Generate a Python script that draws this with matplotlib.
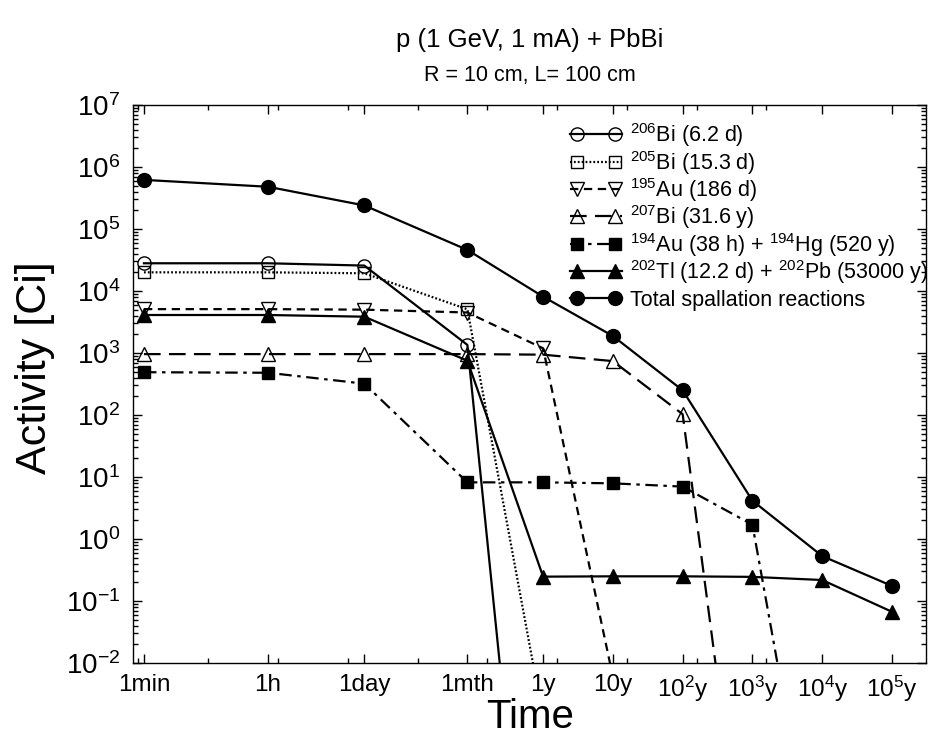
import numpy as np
import matplotlib
matplotlib.use("Agg")
import matplotlib.pyplot as plt
from matplotlib.lines import Line2D
from matplotlib.ticker import FixedLocator, NullFormatter, LogLocator

plt.rcParams['font.family'] = ['Liberation Sans', 'DejaVu Sans']
plt.rcParams['mathtext.fontset'] = 'custom'
plt.rcParams['mathtext.rm'] = 'Liberation Sans'
plt.rcParams['mathtext.it'] = 'Liberation Sans:italic'
plt.rcParams['mathtext.bf'] = 'Liberation Sans:bold'
plt.rcParams['lines.scale_dashes'] = False

# time points (seconds)
YEAR = 365.25 * 86400
time_s = [60, 3600, 86400, 30 * 86400, YEAR, 10 * YEAR, 1e2 * YEAR, 1e3 * YEAR, 1e4 * YEAR, 1e5 * YEAR]
time_labels = ['1min', '1h', '1day', '1mth', '1y', '10y',
               r'$10^{2}$y', r'$10^{3}$y', r'$10^{4}$y', r'$10^{5}$y']
minor_ticks_s = [5 * 10.0 ** n for n in range(1, 11)]

nan = np.nan
bi206 = [2.8e4, 2.8e4, 2.57e4, 1.35e3, 1.3e-9, nan, nan, nan, nan, nan]
bi205 = [2.0e4, 2.0e4, 1.93e4, 5.07e3, 1.3e-3, nan, nan, nan, nan, nan]
au195 = [5.1e3, 5.1e3, 5.0e3, 4.5e3, 1.19e3, 6e-3, nan, nan, nan, nan]
bi207 = [9.6e2, 9.6e2, 9.6e2, 9.6e2, 9.4e2, 7.4e2, 1.03e2, 3e-7, nan, nan]
au194 = [4.9e2, 4.8e2, 3.2e2, 8.2, 8.2, 7.9, 7.0, 1.7, 1e-6, nan]
tl202 = [4.1e3, 4.1e3, 3.85e3, 7.5e2, 0.247, 0.25, 0.25, 0.245, 0.218, 0.067]
total = [6.2e5, 4.8e5, 2.4e5, 4.6e4, 8.1e3, 1.88e3, 2.5e2, 4.15, 0.53, 0.175]

labels = [r'$^{206}$Bi (6.2 d)', r'$^{205}$Bi (15.3 d)', r'$^{195}$Au (186 d)',
          r'$^{207}$Bi (31.6 y)', r'$^{194}$Au (38 h) + $^{194}$Hg (520 y)',
          r'$^{202}$Tl (12.2 d) + $^{202}$Pb (53000 y)', 'Total spallation reactions']

lw = 1.6
line_styles = [
    dict(ls='-'),
    dict(ls=(0, (1.3, 1.5))),
    dict(ls=(0, (6, 4))),
    dict(ls=(0, (12, 6))),
    dict(ls=(0, (9, 4, 2.5, 4))),
    dict(ls='-'),
    dict(ls='-'),
]
marker_styles = [
    dict(marker='o', ms=9.5, mfc='none', mec='k', mew=1.0),
    dict(marker='s', ms=8.5, mfc='none', mec='k', mew=1.0),
    dict(marker='v', ms=10, mfc='none', mec='k', mew=1.0),
    dict(marker='^', ms=10, mfc='none', mec='k', mew=1.0),
    dict(marker='s', ms=8, mfc='k', mec='k'),
    dict(marker='^', ms=10, mfc='k', mec='k'),
    dict(marker='o', ms=10, mfc='k', mec='k'),
]
series = [bi206, bi205, au195, bi207, au194, tl202, total]

W, H = 929, 735
fig = plt.figure(figsize=(W / 100, H / 100), dpi=100)
L, R, T, B = 133, 926, 105, 663
ax = fig.add_axes([L / W, 1 - B / H, (R - L) / W, (B - T) / H])

for ys, lst, mst, lab in zip(series, line_styles, marker_styles, labels):
    ax.plot(time_s, ys, color='k', lw=lw, label=lab, **lst, **mst)

ax.set_xscale('log')
ax.set_yscale('log')
ax.set_xlim(41.8, 9.7e12)
ax.set_ylim(1e-2, 1e7)

ax.xaxis.set_major_locator(FixedLocator(time_s))
ax.set_xticklabels(time_labels)
ax.xaxis.set_minor_locator(FixedLocator(minor_ticks_s))
ax.xaxis.set_minor_formatter(NullFormatter())
ax.yaxis.set_major_locator(LogLocator(base=10, numticks=20))
ax.yaxis.set_minor_locator(LogLocator(base=10, subs=np.arange(2, 10), numticks=20))
ax.yaxis.set_minor_formatter(NullFormatter())

ax.tick_params(which='both', direction='in', top=True, right=True, width=1.0)
ax.tick_params(which='major', length=6.5)
ax.tick_params(which='minor', length=3.5)
ax.tick_params(axis='y', which='major', labelsize=20, pad=9)
ax.tick_params(axis='x', which='major', labelsize=17.5, pad=8)
for s in ax.spines.values():
    s.set_linewidth(1.0)

fig.text(529.5 / W, 1 - 40 / H, 'p (1 GeV, 1 mA) + PbBi', ha='center', va='center', fontsize=18.5)
fig.text(529.5 / W, 1 - 75 / H, 'R = 10 cm, L= 100 cm', ha='center', va='center', fontsize=15.5)
fig.text(35 / W, 1 - 368 / H, 'Activity [Ci]', rotation=90, ha='center', va='center', fontsize=31)
fig.text(530 / W, 1 - 717 / H, 'Time', ha='center', va='center', fontsize=29)

# legend (drawn row by row, no frame)
row0, drow = 134.4, 27.3
for i, (lst, mst, lab) in enumerate(zip(line_styles, marker_styles, labels)):
    yc = row0 + i * drow
    fig.add_artist(Line2D([570 / W, 622 / W], [1 - yc / H, 1 - yc / H], transform=fig.transFigure,
                          color='k', lw=lw, **lst))
    fig.add_artist(Line2D([577 / W, 615 / W], [1 - yc / H, 1 - yc / H], transform=fig.transFigure,
                          color='k', ls='none', **mst))
    fig.text(630 / W, 1 - (yc + 8) / H, lab, ha='left', va='baseline', fontsize=15.5)

fig.savefig('out.png', dpi=100)
